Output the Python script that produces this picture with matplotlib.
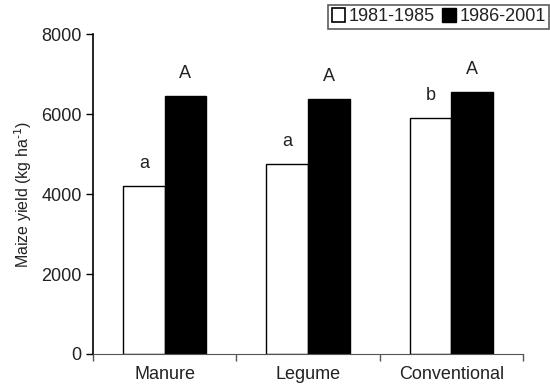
import numpy as np
import matplotlib.pyplot as plt
from matplotlib.patches import Patch

plt.rcParams['font.family'] = ['Liberation Sans', 'DejaVu Sans']

categories = ['Manure', 'Legume', 'Conventional']
series_names = ['1981-1985', '1986-2001']
yield_early = [4200, 4750, 5900]
yield_late = [6450, 6375, 6550]
letters_early = ['a', 'a', 'b']
letters_late = ['A', 'A', 'A']

fig = plt.figure(figsize=(5.5, 3.92), dpi=100)
ax = fig.add_axes([0.169, 0.097, 0.782, 0.816])

x = np.arange(len(categories)) + 0.5
w = 0.29
b0 = ax.bar(x - w / 2, yield_early, w, color='white', edgecolor='black', linewidth=1.0)
b1 = ax.bar(x + w / 2, yield_late, w, color='black', edgecolor='black', linewidth=1.0)

for bars, labs in ((b0, letters_early), (b1, letters_late)):
  for r, t in zip(bars, labs):
    ax.annotate(t, (r.get_x() + r.get_width() / 2, r.get_height()),
                xytext=(0, 13), textcoords='offset points',
                ha='center', va='baseline', fontsize=13, color='#222222')

ax.set_xlim(0, 3)
ax.set_ylim(0, 8000)
ax.set_yticks([0, 2000, 4000, 6000, 8000])
ax.set_xticks([0, 1, 2, 3])
ax.set_xticklabels([])
ax.set_xticks(x, minor=True)
ax.set_xticklabels(categories, minor=True)
ax.tick_params(axis='x', which='minor', length=0, pad=9, labelsize=13, labelcolor='#222222')
ax.tick_params(axis='x', which='major', length=5, width=1, color='#555555')
ax.tick_params(axis='y', length=5, width=1, labelsize=13, pad=3, labelcolor='#222222')
ax.spines['top'].set_visible(False)
ax.spines['right'].set_visible(False)
ax.spines['bottom'].set_color('#555555')
ax.spines['left'].set_linewidth(1.2)
ax.set_ylabel(r'Maize yield (kg ha$^{\text{-1}}$)', fontsize=11.5, labelpad=5, color='#222222')

handles = [Patch(facecolor='white', edgecolor='black', linewidth=1.2),
           Patch(facecolor='black', edgecolor='black')]
leg = fig.legend(handles, series_names, loc='upper right', bbox_to_anchor=(0.999, 0.988),
                 ncol=2, fontsize=13, frameon=True, fancybox=False, borderpad=0.2,
                 handlelength=0.75, handleheight=0.75, handletextpad=0.2,
                 columnspacing=0.4, borderaxespad=0)
leg.get_frame().set_edgecolor('#333333')
leg.get_frame().set_linewidth(1.2)
for t in leg.get_texts():
  t.set_color('#222222')

fig.savefig('out.png', dpi=100)
